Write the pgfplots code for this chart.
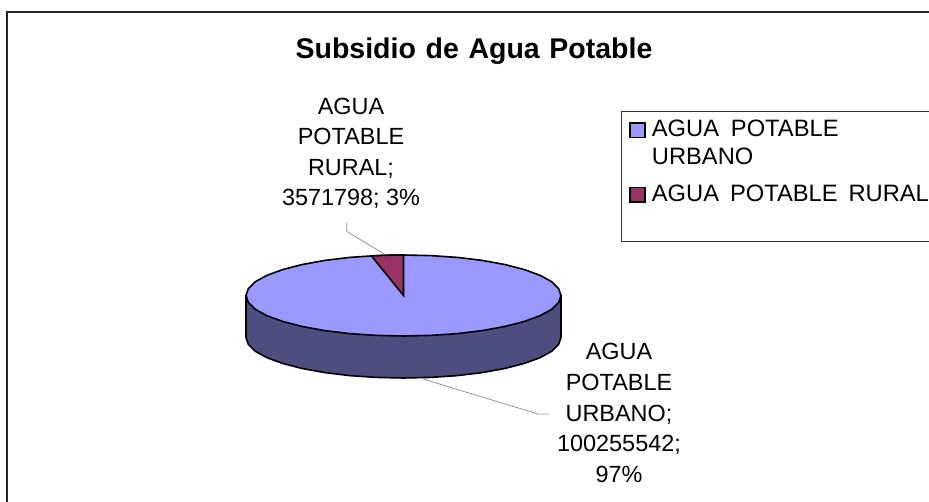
\documentclass[border=0pt]{standalone}
\usepackage{pgfplots}
\pgfplotsset{compat=1.18}
\usepackage{fontspec}
\setmainfont{Liberation Sans}
\definecolor{urb}{HTML}{9999FF}
\definecolor{rur}{HTML}{993366}
\definecolor{side}{HTML}{4D4D80}
\begin{document}
\begin{tikzpicture}
\begin{axis}[
  scale only axis, width=929bp, height=502bp,
  xmin=0, xmax=929, ymin=0, ymax=502, y dir=reverse,
  hide axis, clip=true
]
% page extent
\addplot[fill=white, draw=none] coordinates {(0,0)(929,0)(929,502)(0,502)} --cycle;
% frame
\addplot[draw=black!85, line width=1.5bp] coordinates {(7,502) (7,12) (929,12)};
% side wall
\addplot[fill=side, draw=black, line width=1.6bp] coordinates {
(246,295.5)(246,337.5)(248.4,344.5)(255.5,351.4)(267.1,357.75)(282.9,363.5)(302.3,368.5)(324.75,372.6)(349.6,375.6)(376.2,377.4)(403.5,378)
(430.8,377.4)(457.4,375.6)(482.25,372.6)(504.7,368.5)(524.1,363.5)(539.9,357.75)(551.5,351.4)(558.6,344.5)(561,337.5)(561,295.5)} --cycle;
% top
\addplot[fill=urb, draw=black, line width=1.6bp] coordinates {
(561,295.5)(558.6,302.5)(551.5,309.4)(539.9,315.75)(524.1,321.5)(504.7,326.5)(482.25,330.6)(457.4,333.6)(430.8,335.4)(403.5,336)
(376.2,335.4)(349.6,333.6)(324.75,330.6)(302.3,326.5)(282.9,321.5)(267.1,315.75)(255.5,309.4)(248.4,302.5)(246,295.5)
(248.4,288.5)(255.5,281.6)(267.1,275.25)(282.9,269.5)(302.3,264.5)(324.75,260.4)(349.6,257.4)(376.2,255.6)(403.5,255)
(430.8,255.6)(457.4,257.4)(482.25,260.4)(504.7,264.5)(524.1,269.5)(539.9,275.25)(551.5,281.6)(558.6,288.5)} --cycle;
% wedge
\addplot[fill=rur, draw=black, line width=1.6bp] coordinates {(403.5,295.5)(371.5,256)(387.5,255.2)(403.5,255)} --cycle;
% leaders
\addplot[draw=black!45, line width=0.7bp] coordinates {(346.7,222.7)(346.7,231.5)(384.3,254)};
\addplot[draw=black!45, line width=0.7bp] coordinates {(423,379)(538,414)(549,414)};
% legend
\addplot[draw=black!80, line width=0.9bp] coordinates {(929,111.7)(621.5,111.7)(621.5,241.7)(929,241.7)};
\addplot[fill=urb, draw=black, line width=1.7bp] coordinates {(630,122.7)(645,122.7)(645,137.5)(630,137.5)} --cycle;
\addplot[fill=rur, draw=black, line width=1.7bp] coordinates {(630,187.5)(645,187.5)(645,202.3)(630,202.3)} --cycle;
% text
\node[font=\bfseries\fontsize{28.6}{30}\selectfont, anchor=center] at (axis cs:474,51) {\spaceskip=0.34em Subsidio de Agua Potable};
\node[font=\fontsize{23.5}{30.5}\selectfont, align=center, anchor=center] at (axis cs:351,153.5) {AGUA\\POTABLE\\RURAL;\\3571798; 3\%};
\node[font=\fontsize{23.5}{31}\selectfont, align=center, anchor=center] at (axis cs:619,413) {AGUA\\POTABLE\\URBANO;\\100255542;\\97\%};
\node[font=\fontsize{23.8}{28}\selectfont, anchor=base west, inner xsep=0pt] at (axis cs:651.7,136.7) {\spaceskip=0.5em AGUA POTABLE};
\node[font=\fontsize{23.8}{28}\selectfont, anchor=base west, inner xsep=0pt] at (axis cs:651.7,164.3) {URBANO};
\node[font=\fontsize{23.8}{28}\selectfont, anchor=base west, inner xsep=0pt] at (axis cs:651.7,201.7) {\spaceskip=0.46em AGUA POTABLE RURAL};
\end{axis}
\end{tikzpicture}
\end{document}
